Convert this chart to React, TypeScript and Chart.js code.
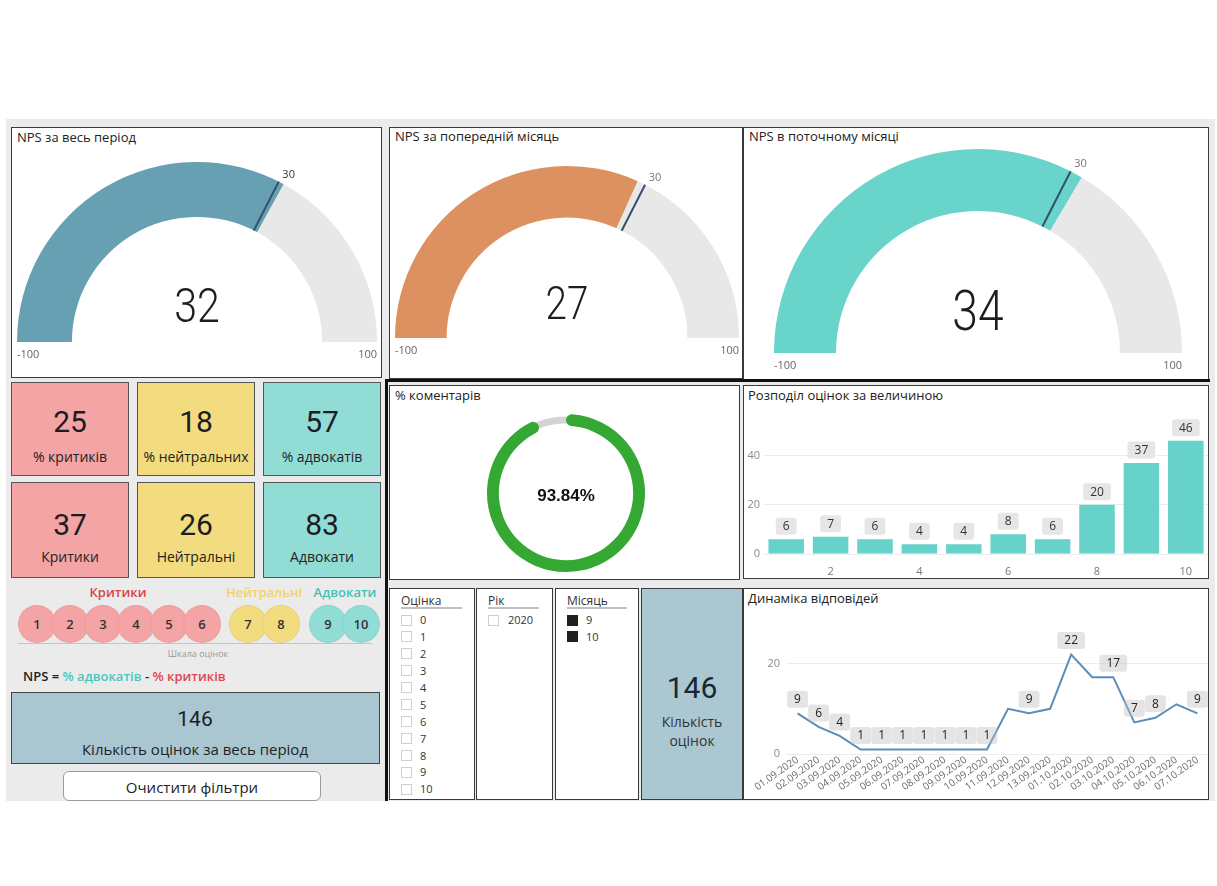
import React, { useEffect, useRef } from "react";
import { Chart, registerables } from "chart.js";
Chart.register(...registerables);

// ---------------- DATA ----------------
const GAUGE_TITLES = ["NPS за весь період", "NPS за попередній місяць", "NPS в поточному місяці"];
const GAUGE_VALUES = [32, 27, 34];
const GAUGE_TARGET = 30;
const GAUGE_MIN = -100;
const GAUGE_MAX = 100;

const KPI_PCT_LABELS = ["% критиків", "% нейтральних", "% адвокатів"];
const KPI_PCT_VALUES = [25, 18, 57];
const KPI_CNT_LABELS = ["Критики", "Нейтральні", "Адвокати"];
const KPI_CNT_VALUES = [37, 26, 83];
const TOTAL_COUNT = 146;
const COMMENT_PCT = 93.84;

const SCALE_GROUP_NAMES = ["Критики", "Нейтральні", "Адвокати"];
const SCALE_SCORES = [1, 2, 3, 4, 5, 6, 7, 8, 9, 10];
const SCALE_SCORE_GROUP = [0, 0, 0, 0, 0, 0, 1, 1, 2, 2];

const SCORE_CATEGORIES = ["1", "2", "3", "4", "5", "6", "7", "8", "9", "10"];
const SCORE_COUNTS = [6, 7, 6, 4, 4, 8, 6, 20, 37, 46];

const DATES = [
  "01.09.2020", "02.09.2020", "03.09.2020", "04.09.2020", "05.09.2020",
  "06.09.2020", "07.09.2020", "08.09.2020", "09.09.2020", "10.09.2020",
  "11.09.2020", "12.09.2020", "13.09.2020", "01.10.2020", "02.10.2020",
  "03.10.2020", "04.10.2020", "05.10.2020", "06.10.2020", "07.10.2020",
];
const DAILY_COUNTS = [9, 6, 4, 1, 1, 1, 1, 1, 1, 1, 10, 9, 10, 22, 17, 17, 7, 8, 11, 9];
const DAILY_LABEL_SHOWN = [1, 1, 1, 1, 1, 1, 1, 1, 1, 1, 0, 1, 0, 1, 0, 1, 1, 1, 0, 1];

const SLICER_SCORES = ["0", "1", "2", "3", "4", "5", "6", "7", "8", "9", "10"];
const SLICER_YEARS = ["2020"];
const SLICER_MONTHS = ["9", "10"];

// ---------------- STYLE ----------------
const FONT = "'Open Sans', 'Noto Sans', sans-serif";
const NUM_FONT = "Roboto, 'Noto Sans', sans-serif";
Chart.defaults.font.family = FONT;

const GROUP_COLORS = ["#f4a4a4", "#f2dc7f", "#92dcd6"];
const GROUP_TEXT_COLORS = ["#d9434b", "#f0d466", "#45c1b8"];

function roundRect(ctx: CanvasRenderingContext2D, x: number, y: number, w: number, h: number, r: number) {
  ctx.beginPath();
  ctx.moveTo(x + r, y);
  ctx.lineTo(x + w - r, y);
  ctx.quadraticCurveTo(x + w, y, x + w, y + r);
  ctx.lineTo(x + w, y + h - r);
  ctx.quadraticCurveTo(x + w, y + h, x + w - r, y + h);
  ctx.lineTo(x + r, y + h);
  ctx.quadraticCurveTo(x, y + h, x, y + h - r);
  ctx.lineTo(x, y + r);
  ctx.quadraticCurveTo(x, y, x + r, y);
  ctx.closePath();
}

function ChartBox({ x, y, w, h, make }: { x: number; y: number; w: number; h: number; make: () => any }) {
  const ref = useRef<HTMLCanvasElement>(null);
  useEffect(() => {
    const chart = new Chart(ref.current as HTMLCanvasElement, make());
    return () => chart.destroy();
  }, []);
  return (
    <div style={{ position: "absolute", left: x, top: y, width: w, height: h }}>
      <canvas ref={ref} />
    </div>
  );
}

const baseOpts = {
  animation: false,
  responsive: true,
  maintainAspectRatio: false,
  events: [],
  plugins: { legend: { display: false }, tooltip: { enabled: false } },
};

function gaugeConfig(idx: number, color: string, pad: any, cutout: string, targetLabelColor: string) {
  const value = GAUGE_VALUES[idx];
  const decor = {
    id: "gaugeDecor" + idx,
    afterDatasetsDraw(chart: any) {
      const arc = chart.getDatasetMeta(0).data[0];
      const { x, y, innerRadius, outerRadius } = arc.getProps(["x", "y", "innerRadius", "outerRadius"], true);
      const ctx: CanvasRenderingContext2D = chart.ctx;
      const frac = (GAUGE_TARGET - GAUGE_MIN) / (GAUGE_MAX - GAUGE_MIN);
      const a = Math.PI + frac * Math.PI;
      ctx.save();
      ctx.strokeStyle = "#34506e";
      ctx.lineWidth = 2;
      ctx.beginPath();
      ctx.moveTo(x + innerRadius * Math.cos(a), y + innerRadius * Math.sin(a));
      ctx.lineTo(x + outerRadius * Math.cos(a), y + outerRadius * Math.sin(a));
      ctx.stroke();
      ctx.font = `11px ${FONT}`;
      ctx.fillStyle = targetLabelColor;
      ctx.textAlign = "left";
      ctx.textBaseline = "middle";
      ctx.fillText(String(GAUGE_TARGET), x + (outerRadius + 8) * Math.cos(a), y + (outerRadius + 8) * Math.sin(a));
      ctx.fillStyle = "#666";
      ctx.fillText(String(GAUGE_MIN), x - outerRadius, y + 13);
      ctx.textAlign = "right";
      ctx.fillText(String(GAUGE_MAX), x + outerRadius, y + 13);
      // value
      ctx.translate(x, y - 0.18 * outerRadius);
      ctx.scale(0.84, 1);
      ctx.font = `300 ${Math.round(outerRadius * 0.27)}px ${NUM_FONT}`;
      ctx.fillStyle = "#1e1e1e";
      ctx.textAlign = "center";
      ctx.fillText(String(value), 0, 0);
      ctx.restore();
    },
  };
  return {
    type: "doughnut",
    data: {
      labels: ["value", "rest"],
      datasets: [{ data: [value - GAUGE_MIN, GAUGE_MAX - value], backgroundColor: [color, "#e8e8e8"], borderWidth: 0 }],
    },
    options: { ...baseOpts, rotation: -90, circumference: 180, cutout, layout: { padding: pad } },
    plugins: [decor],
  };
}

function commentsConfig() {
  const plugin = {
    id: "commentDecor",
    beforeDatasetsDraw(chart: any) {
      const arc = chart.getDatasetMeta(0).data[0];
      const { x, y, innerRadius, outerRadius } = arc.getProps(["x", "y", "innerRadius", "outerRadius"], true);
      const ctx: CanvasRenderingContext2D = chart.ctx;
      ctx.save();
      ctx.strokeStyle = "#d4d4d4";
      ctx.lineWidth = 7;
      ctx.beginPath();
      ctx.arc(x, y, (innerRadius + outerRadius) / 2, 0, Math.PI * 2);
      ctx.stroke();
      ctx.restore();
    },
    afterDatasetsDraw(chart: any) {
      const arc = chart.getDatasetMeta(0).data[0];
      const { x, y } = arc.getProps(["x", "y"], true);
      const ctx: CanvasRenderingContext2D = chart.ctx;
      ctx.save();
      ctx.font = "bold 17px 'Liberation Sans', Arial, sans-serif";
      ctx.fillStyle = "#111";
      ctx.textAlign = "center";
      ctx.textBaseline = "middle";
      ctx.fillText(COMMENT_PCT.toFixed(2) + "%", x, y + 3);
      ctx.restore();
    },
  };
  return {
    type: "doughnut",
    data: {
      labels: ["with", "without"],
      datasets: [{
        data: [COMMENT_PCT, 100 - COMMENT_PCT],
        backgroundColor: ["#35a733", "rgba(0,0,0,0)"],
        borderWidth: 0,
        borderRadius: 6,
      }],
    },
    options: { ...baseOpts, cutout: "85%", layout: { padding: { left: 97, right: 94, top: 12, bottom: 7 } } },
    plugins: [plugin],
  };
}

function labelBox(ctx: CanvasRenderingContext2D, text: string, cx: number, cy: number, fill: string, color: string) {
  ctx.font = `12px ${FONT}`;
  const w = ctx.measureText(text).width + 14;
  const h = 17;
  ctx.fillStyle = fill;
  roundRect(ctx, cx - w / 2, cy - h / 2, w, h, 3);
  ctx.fill();
  ctx.fillStyle = color;
  ctx.textAlign = "center";
  ctx.textBaseline = "middle";
  ctx.fillText(text, cx, cy + 0.5);
}

function barConfig() {
  const plugin = {
    id: "barLabels",
    afterDatasetsDraw(chart: any) {
      const ctx: CanvasRenderingContext2D = chart.ctx;
      ctx.save();
      chart.getDatasetMeta(0).data.forEach((bar: any, i: number) => {
        labelBox(ctx, String(SCORE_COUNTS[i]), bar.x, bar.y - 13, "#e6e6e6", "#333");
      });
      ctx.restore();
    },
  };
  return {
    type: "bar",
    data: {
      labels: SCORE_CATEGORIES,
      datasets: [{ data: SCORE_COUNTS, backgroundColor: "#67d2c9", barPercentage: 0.8, categoryPercentage: 1 }],
    },
    options: {
      ...baseOpts,
      layout: { padding: { top: 29, right: 0, bottom: 3, left: 0 } },
      scales: {
        x: {
          grid: { display: false },
          border: { display: false },
          ticks: {
            color: "#777", font: { size: 11 }, padding: 3, autoSkip: false, maxRotation: 0,
            callback: (_v: any, i: number) => (i % 2 === 1 ? SCORE_CATEGORIES[i] : ""),
          },
          afterFit: (s: any) => { s.height = 22; },
        },
        y: {
          min: 0, max: 50,
          afterBuildTicks: (s: any) => { s.ticks = s.ticks.filter((t: any) => t.value % 20 === 0); },
          grid: { color: "#ececec", drawTicks: false },
          border: { display: false },
          ticks: { color: "#888", font: { size: 11 }, padding: 4 },
          afterFit: (s: any) => { s.width = 20; },
        },
      },
    },
    plugins: [plugin],
  };
}

function lineConfig() {
  const plugin = {
    id: "lineLabels",
    afterDatasetsDraw(chart: any) {
      const ctx: CanvasRenderingContext2D = chart.ctx;
      ctx.save();
      chart.getDatasetMeta(0).data.forEach((pt: any, i: number) => {
        if (!DAILY_LABEL_SHOWN[i]) return;
        labelBox(ctx, String(DAILY_COUNTS[i]), pt.x, pt.y - 14, "rgba(190,190,190,0.42)", "#222");
      });
      ctx.restore();
    },
  };
  return {
    type: "line",
    data: {
      labels: DATES,
      datasets: [{ data: DAILY_COUNTS, borderColor: "#5a8dba", borderWidth: 2, pointRadius: 0, tension: 0, fill: false }],
    },
    options: {
      ...baseOpts,
      layout: { padding: { top: 37, right: 0, bottom: 0, left: 0 } },
      scales: {
        x: {
          offset: true,
          grid: { display: false },
          border: { display: false },
          ticks: { color: "#666", font: { size: 10 }, padding: -8, labelOffset: 0, autoSkip: false, minRotation: 35, maxRotation: 35 },
          afterFit: (s: any) => { s.height = 45; },
        },
        y: {
          min: 0, max: 25,
          afterBuildTicks: (s: any) => { s.ticks = s.ticks.filter((t: any) => t.value % 20 === 0); },
          grid: { color: "#ececec", drawTicks: false },
          border: { display: false },
          ticks: { color: "#888", font: { size: 11 }, padding: 7 },
          afterFit: (s: any) => { s.width = 43; },
        },
      },
    },
    plugins: [plugin],
  };
}

// ---------------- LAYOUT HELPERS ----------------
const abs = (x: number, y: number, w: number, h: number, extra: React.CSSProperties = {}): React.CSSProperties => ({
  position: "absolute", left: x, top: y, width: w, height: h, boxSizing: "border-box", ...extra,
});

function Panel({ x, y, w, h, bg = "#fff", border = "1px solid #3a3a3a" }: any) {
  return <div style={abs(x, y, w, h, { background: bg, border })} />;
}

function Text({ x, y, children, size = 13, color = "#222", weight = 400, family = FONT, align = "left", w }: any) {
  const style: React.CSSProperties = {
    position: "absolute", top: y - size * 0.7, height: size * 1.4, lineHeight: `${size * 1.4}px`,
    fontSize: size, color, fontWeight: weight, fontFamily: family, whiteSpace: "nowrap",
  };
  if (align === "center") { style.left = x - (w || 300) / 2; style.width = w || 300; style.textAlign = "center"; }
  else style.left = x;
  return <div style={style}>{children}</div>;
}

const CARD_X = [11, 137, 263];
const SCALE_CX = [37, 70, 103, 136, 169, 202, 248, 281, 328, 361];
const GROUP_LABEL_X = [118, 264, 345];

export default function App() {
  return (
    <div style={{ position: "fixed", left: 0, top: 0, width: 1217, height: 886, background: "#fff", overflow: "hidden", fontFamily: FONT }}>
      <div style={abs(6, 119, 1209, 682, { background: "#ebebeb" })} />

      {/* Gauges */}
      <Panel x={11} y={127} w={371} h={251} />
      <Panel x={389} y={127} w={354} h={252} />
      <Panel x={743} y={127} w={466} h={253} />
      <Text x={17} y={137}>{GAUGE_TITLES[0]}</Text>
      <Text x={395} y={136}>{GAUGE_TITLES[1]}</Text>
      <Text x={749} y={136}>{GAUGE_TITLES[2]}</Text>
      <ChartBox x={12} y={145} w={369} h={232} make={() => gaugeConfig(0, "#67a0b3", { left: 5, right: 4, top: 17, bottom: 35 }, "69.5%", "#333")} />
      <ChartBox x={390} y={145} w={352} h={233} make={() => gaugeConfig(1, "#de9160", { left: 5, right: 3, top: 21, bottom: 40 }, "70%", "#777")} />
      <ChartBox x={744} y={145} w={464} h={234} make={() => gaugeConfig(2, "#68d4ca", { left: 30, right: 26, top: 4, bottom: 26 }, "69.6%", "#777")} />

      {/* thick separators */}
      <div style={abs(385, 379, 825, 3, { background: "#111" })} />
      <div style={abs(385, 379, 3, 422, { background: "#111" })} />

      {/* KPI cards */}
      {KPI_PCT_VALUES.map((v, i) => (
        <React.Fragment key={"p" + i}>
          <div style={abs(CARD_X[i], 382, 118, 94, { background: GROUP_COLORS[i], border: "1px solid #555" })} />
          <Text x={CARD_X[i] + 59} y={422} align="center" w={118} size={30} weight={400} family={NUM_FONT} color="#1c1c24">{v}</Text>
          <Text x={CARD_X[i] + 59} y={457} align="center" w={118} size={14} color="#222">{KPI_PCT_LABELS[i]}</Text>
        </React.Fragment>
      ))}
      {KPI_CNT_VALUES.map((v, i) => (
        <React.Fragment key={"c" + i}>
          <div style={abs(CARD_X[i], 482, 118, 96, { background: GROUP_COLORS[i], border: "1px solid #555" })} />
          <Text x={CARD_X[i] + 59} y={525} align="center" w={118} size={30} weight={400} family={NUM_FONT} color="#1c1c24">{v}</Text>
          <Text x={CARD_X[i] + 59} y={557} align="center" w={118} size={14} color="#222">{KPI_CNT_LABELS[i]}</Text>
        </React.Fragment>
      ))}

      {/* Score scale */}
      {SCALE_GROUP_NAMES.map((n, i) => (
        <Text key={n} x={GROUP_LABEL_X[i]} y={592} align="center" w={100} size={13} weight={600} color={GROUP_TEXT_COLORS[i]}>{n}</Text>
      ))}
      {SCALE_SCORES.map((s, i) => (
        <div key={s} style={abs(SCALE_CX[i] - 19, 605, 38, 38, {
          borderRadius: "50%", background: GROUP_COLORS[SCALE_SCORE_GROUP[i]], border: "1px solid rgba(0,0,0,0.04)",
          display: "flex", alignItems: "center", justifyContent: "center", fontSize: 13, fontWeight: 600, color: "#333",
        })}>{s}</div>
      ))}
      <div style={abs(18, 643, 354, 1, { background: "#c4c4c4" })} />
      <Text x={198} y={654} align="center" w={120} size={9} color="#999">Шкала оцінок</Text>
      <div style={{ position: "absolute", left: 23, top: 667, fontSize: 13, fontWeight: 600, lineHeight: "18px", whiteSpace: "nowrap", color: "#222" }}>
        NPS = <span style={{ color: "#4cc6bd" }}>% адвокатів</span> - <span style={{ color: "#e0454f" }}>% критиків</span>
      </div>

      {/* Total box */}
      <div style={abs(11, 692, 369, 72, { background: "#aac7d1", border: "1px solid #444" })} />
      <Text x={195} y={720} align="center" w={300} size={21} weight={400} family={NUM_FONT} color="#1c1c24">{TOTAL_COUNT}</Text>
      <Text x={195} y={749} align="center" w={360} size={15} color="#222">Кількість оцінок за весь період</Text>
      <div style={abs(63, 771, 258, 30, { background: "#fff", border: "1px solid #9a9a9a", borderRadius: 6 })} />
      <Text x={192} y={787} align="center" w={258} size={15} color="#222">Очистити фільтри</Text>

      {/* Comments donut */}
      <Panel x={389} y={385} w={351} h={195} />
      <Text x={395} y={395}>% коментарів</Text>
      <ChartBox x={390} y={402} w={349} h={177} make={commentsConfig} />

      {/* Bar chart */}
      <Panel x={743} y={385} w={466} h={194} />
      <Text x={748} y={395}>Розподіл оцінок за величиною</Text>
      <ChartBox x={744} y={402} w={464} h={177} make={barConfig} />

      {/* Slicers */}
      <Panel x={389} y={588} w={86} h={212} />
      <Panel x={476} y={588} w={77} h={212} />
      <Panel x={555} y={588} w={84} h={212} />
      <Text x={401} y={601} size={12} color="#333">Оцінка</Text>
      <div style={abs(401, 607, 61, 2, { background: "#c0c0c0" })} />
      {SLICER_SCORES.map((s, i) => (
        <React.Fragment key={"s" + s}>
          <div style={abs(401, 614.5 + i * 16.9, 11, 11, { border: "1px solid #cfcfcf", background: "#fff" })} />
          <Text x={420} y={620 + i * 16.9} size={11} color="#333">{s}</Text>
        </React.Fragment>
      ))}
      <Text x={488} y={601} size={12} color="#333">Рік</Text>
      <div style={abs(488, 607, 51, 2, { background: "#c0c0c0" })} />
      {SLICER_YEARS.map((s, i) => (
        <React.Fragment key={"y" + s}>
          <div style={abs(488, 614.5 + i * 16.9, 11, 11, { border: "1px solid #cfcfcf", background: "#fff" })} />
          <Text x={508} y={620 + i * 16.9} size={11} color="#333">{s}</Text>
        </React.Fragment>
      ))}
      <Text x={567} y={601} size={12} color="#333">Місяць</Text>
      <div style={abs(567, 607, 60, 2, { background: "#c0c0c0" })} />
      {SLICER_MONTHS.map((s, i) => (
        <React.Fragment key={"m" + s}>
          <div style={abs(567, 614.5 + i * 16.9, 11, 11, { background: "#231f20" })} />
          <Text x={586} y={620 + i * 16.9} size={11} color="#333">{s}</Text>
        </React.Fragment>
      ))}

      {/* KPI count */}
      <Panel x={641} y={588} w={102} h={212} bg="#abc8d2" />
      <Text x={692} y={688} align="center" w={100} size={30} weight={400} family={NUM_FONT} color="#1a2636">{TOTAL_COUNT}</Text>
      <Text x={692} y={722} align="center" w={100} size={14} color="#333">Кількість</Text>
      <Text x={692} y={741} align="center" w={100} size={14} color="#333">оцінок</Text>

      {/* Line chart */}
      <Panel x={743} y={588} w={466} h={212} />
      <Text x={748} y={598}>Динаміка відповідей</Text>
      <ChartBox x={744} y={604} w={464} h={195} make={lineConfig} />
    </div>
  );
}
